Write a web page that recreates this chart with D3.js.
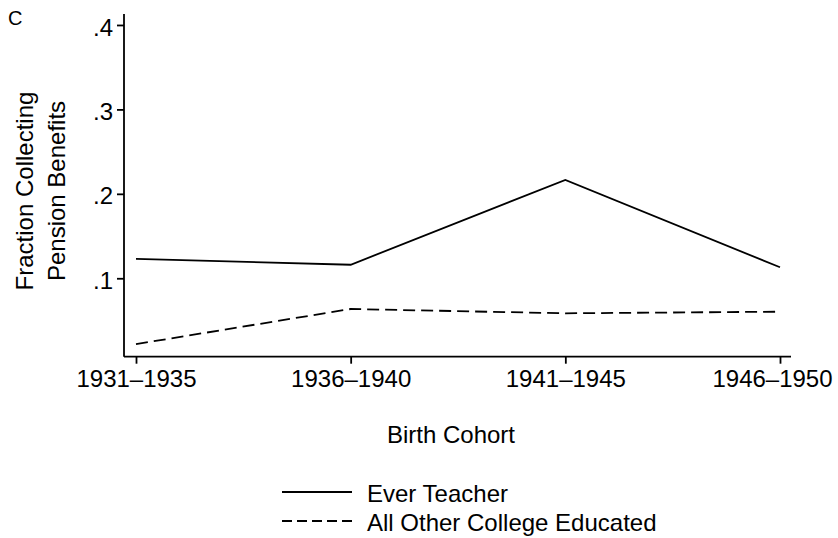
<!DOCTYPE html>
<html>
<head>
<meta charset="utf-8">
<script src="https://cdn.jsdelivr.net/npm/d3@7"></script>
<style>
  body { margin: 0; background: #fff; }
  text { font-family: "Liberation Sans", Arial, Helvetica, sans-serif; fill: #000; }
</style>
</head>
<body>
<svg id="chart" width="838" height="538"></svg>
<script>
// cohort categories along the x axis
var cohorts = ["1931\u20131935", "1936\u20131940", "1941\u20131945", "1946\u20131950"];
// fraction collecting pension benefits
var everTeacher = [0.123, 0.116, 0.2165, 0.113];
var otherCollege = [0.022, 0.0636, 0.0585, 0.0604];
var yTicks = [0.1, 0.2, 0.3, 0.4];
var yTickLabels = [".1", ".2", ".3", ".4"];
var seriesNames = ["Ever Teacher", "All Other College Educated"];

var svg = d3.select("#chart");

// plot region
var x = d3.scalePoint()
  .domain(cohorts)
  .range([136, 780]);

var y = d3.scaleLinear()
  .domain([0.0071, 0.413])
  .range([356.7, 14]);

var axisLeft = 124, axisBottom = 356.7;

// y axis
var gy = svg.append("g")
  .attr("transform", `translate(${axisLeft},0)`)
  .call(d3.axisLeft(y).tickValues(yTicks).tickSize(7).tickPadding(4)
    .tickFormat(function(d, i) { return yTickLabels[i]; }));
gy.select(".domain").attr("d", `M0,${axisBottom}V${y(0.413)}`).attr("stroke", "#000").attr("stroke-width", 1.8);
gy.selectAll(".tick line").attr("stroke", "#000").attr("stroke-width", 1.8);
gy.selectAll(".tick text").style("font-size", "24px").attr("font-family", null).attr("dy", "0.42em");

// x axis
var gx = svg.append("g")
  .attr("transform", `translate(0,${axisBottom})`)
  .call(d3.axisBottom(x).tickSize(7).tickPadding(6));
gx.select(".domain").attr("d", `M${axisLeft},0H791`).attr("stroke", "#000").attr("stroke-width", 1.8);
gx.selectAll(".tick line").attr("stroke", "#000").attr("stroke-width", 1.8);
gx.selectAll(".tick text").style("font-size", "24px").attr("font-family", null);
// last label is pulled inside the page edge, as in the original
gx.selectAll(".tick text").filter(function(d, i) { return i === cohorts.length - 1; })
  .attr("x", -8);

// lines
var line = d3.line()
  .x(function(d, i) { return x(cohorts[i]); })
  .y(function(d) { return y(d); });

svg.append("path")
  .datum(everTeacher)
  .attr("d", line)
  .attr("fill", "none")
  .attr("stroke", "#000")
  .attr("stroke-width", 1.8);

svg.append("path")
  .datum(otherCollege)
  .attr("d", line)
  .attr("fill", "none")
  .attr("stroke", "#000")
  .attr("stroke-width", 1.8)
  .attr("stroke-dasharray", "12,6");

// titles
svg.append("text")
  .attr("x", 8).attr("y", 25)
  .style("font-size", "20px")
  .text("C");

svg.append("text")
  .attr("x", 451).attr("y", 443)
  .attr("text-anchor", "middle")
  .style("font-size", "24px")
  .text("Birth Cohort");

var yt = svg.append("text")
  .attr("transform", "translate(0,191) rotate(-90)")
  .attr("text-anchor", "middle")
  .style("font-size", "24px");
yt.append("tspan").attr("x", 0).attr("y", 33).text("Fraction Collecting");
yt.append("tspan").attr("x", 0).attr("y", 65).text("Pension Benefits");

// legend
var legend = svg.append("g");
var legendRows = legend.selectAll("g")
  .data(seriesNames)
  .enter().append("g")
  .attr("transform", function(d, i) { return `translate(282,${492 + i * 29})`; });

legendRows.append("line")
  .attr("x1", 0).attr("x2", 70)
  .attr("stroke", "#000")
  .attr("stroke-width", 1.8)
  .attr("stroke-dasharray", function(d, i) { return i === 1 ? "10,5" : null; });

legendRows.append("text")
  .attr("x", 85).attr("y", 9.5)
  .style("font-size", "24px")
  .text(function(d) { return d; });
</script>
</body>
</html>
